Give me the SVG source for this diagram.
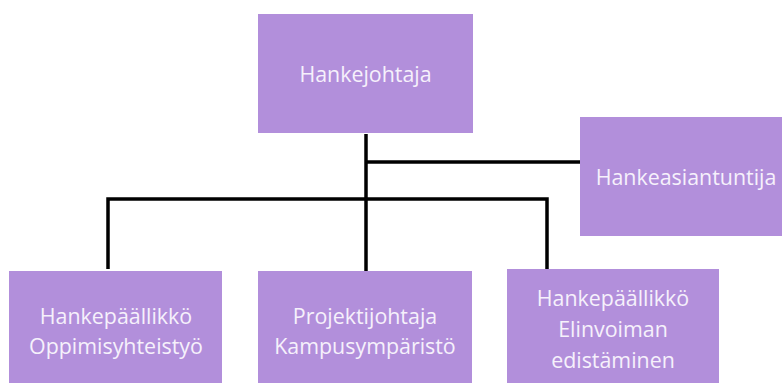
<svg xmlns="http://www.w3.org/2000/svg" width="782" height="383" viewBox="0 0 782 383">
<style>
.box{fill:#B28FDB;}
.t{font-family:"Open Sans","Noto Sans",sans-serif;font-size:21.4px;fill:#F6F1FB;text-anchor:middle;}
.c{stroke:#000;stroke-width:3.5;fill:none;}
</style>
<rect width="782" height="383" fill="#fff"/>
<g id="connectors">
<path class="c" d="M366 134 V277"/>
<path class="c" d="M366 162 H580"/>
<path class="c" d="M108 269 V199 H547 V269"/>
</g>
<g id="hankejohtaja"><rect class="box" x="258" y="14" width="215" height="119"/><text class="t" x="365.5" y="82">Hankejohtaja</text></g>
<g id="hankeasiantuntija"><rect class="box" x="580" y="117" width="202" height="119"/><text class="t" x="686" y="185">Hankeasiantuntija</text></g>
<g id="oppimis"><rect class="box" x="9" y="271" width="213" height="112"/><text class="t" x="116" y="324">Hankepäällikkö</text><text class="t" x="116" y="354">Oppimisyhteistyö</text></g>
<g id="kampus"><rect class="box" x="258" y="271" width="214" height="112"/><text class="t" x="365" y="324">Projektijohtaja</text><text class="t" x="365" y="354">Kampusympäristö</text></g>
<g id="elinvoima"><rect class="box" x="507" y="269" width="212" height="114"/><text class="t" x="613" y="306">Hankepäällikkö</text><text class="t" x="613" y="337">Elinvoiman</text><text class="t" x="613" y="368">edistäminen</text></g>
</svg>
